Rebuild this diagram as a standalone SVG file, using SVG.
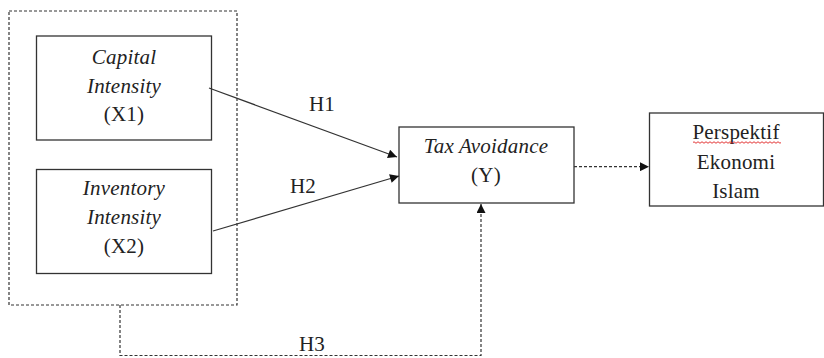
<svg xmlns="http://www.w3.org/2000/svg" width="824" height="358" viewBox="0 0 824 358">
<defs>
<style>
.box{fill:#fff;stroke:#333;stroke-width:1.3}
.dash{fill:none;stroke:#333;stroke-width:1.2;stroke-dasharray:3 2}
.line{fill:none;stroke:#333;stroke-width:1.2}
text{font-family:"Liberation Serif","Times New Roman",serif;font-size:21px;letter-spacing:0.2px;fill:#222;text-anchor:middle}
.it{font-style:italic}
</style>
<marker id="arr" viewBox="0 0 10 10" refX="10" refY="5" markerWidth="11" markerHeight="9" markerUnits="userSpaceOnUse" orient="auto">
<path d="M0,0 L10,5 L0,10 Z" fill="#111"/>
</marker>
</defs>
<rect width="824" height="358" fill="#fff"/>
<g id="group-x">
<rect x="9" y="11" width="228" height="294" class="dash"/>
</g>
<g id="capital">
<rect x="36.5" y="36" width="175" height="104" class="box"/>
<text x="124" y="64" class="it">Capital</text>
<text x="124" y="92.5" class="it">Intensity</text>
<text x="124" y="121">(X1)</text>
</g>
<g id="inventory">
<rect x="36.5" y="169.5" width="175" height="104" class="box"/>
<text x="124" y="195" class="it">Inventory</text>
<text x="124" y="224" class="it">Intensity</text>
<text x="124" y="253">(X2)</text>
</g>
<g id="tax">
<rect x="399" y="127" width="175" height="76" class="box"/>
<text x="486" y="152.7" class="it">Tax Avoidance</text>
<text x="486" y="181.7">(Y)</text>
</g>
<g id="perspektif">
<rect x="649.5" y="113" width="174" height="93" class="box"/>
<text x="736" y="139">Perspektif</text>
<path d="M693,142.5 q1,-1.5 2,0 t2,0 t2,0 t2,0 t2,0 t2,0 t2,0 t2,0 t2,0 t2,0 t2,0 t2,0 t2,0 t2,0 t2,0 t2,0 t2,0 t2,0 t2,0 t2,0 t2,0 t2,0 t2,0 t2,0 t2,0 t2,0 t2,0 t2,0 t2,0 t2,0 t2,0 t2,0 t2,0 t2,0 t2,0 t2,0 t2,0 t2,0 t2,0 t2,0 t2,0 t2,0 t2,0 t2,0" fill="none" stroke="#e02020" stroke-width="0.9"/>
<text x="736" y="169">Ekonomi</text>
<text x="736" y="197.7">Islam</text>
</g>
<g id="connectors">
<line x1="209" y1="88" x2="397" y2="157" class="line" marker-end="url(#arr)"/>
<line x1="213" y1="231" x2="399" y2="176" class="line" marker-end="url(#arr)"/>
<line x1="574" y1="166.7" x2="649" y2="166.7" class="dash" marker-end="url(#arr)"/>
<polyline points="120,305 120,355.5 481,355.5 481,204" class="dash" marker-end="url(#arr)"/>
<text x="322" y="111">H1</text>
<text x="303" y="192.7">H2</text>
<text x="312" y="350.7">H3</text>
</g>
</svg>
